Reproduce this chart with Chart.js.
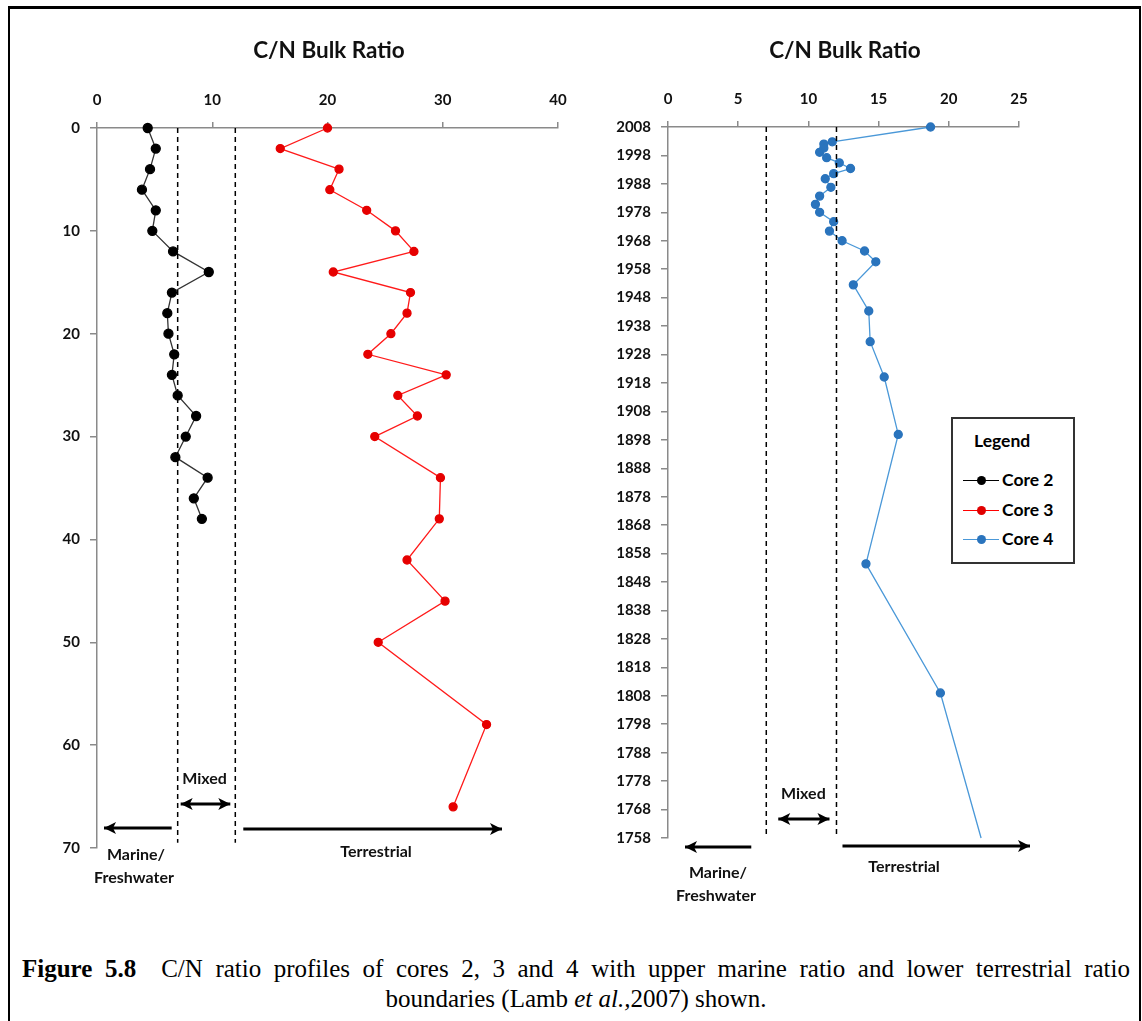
<!DOCTYPE html>
<html>
<head>
<meta charset="utf-8">
<script src="https://cdn.jsdelivr.net/npm/chart.js@4.4.0/dist/chart.umd.min.js"></script>
<style>
    body { margin: 0; background: #fff; width: 1142px; height: 1021px; overflow: hidden; position: relative; font-family: Lato, sans-serif; }
    .frame { position: absolute; left: 8px; top: 6px; width: 1129px; height: 1060px; border-left: 2px solid #000; border-top: 3px solid #000; border-right: 2px solid #000; }
    canvas { position: absolute; left: 0; top: 0; }
    .title { position: absolute; top: 36px; width: 300px; text-align: center; font-weight: bold; font-size: 22.5px; color: #111; }
    .legend { position: absolute; left: 951px; top: 417px; width: 120px; height: 143px; border: 2px solid #333; background: #fff; }
    .legend .head { position: absolute; left: 21px; top: 11px; font-weight: bold; font-size: 17.5px; }
    .legend .item { position: absolute; left: 10px; font-weight: bold; font-size: 17.5px; line-height: 20px; }
    .legend .sw { display: inline-block; position: relative; width: 36px; height: 20px; vertical-align: top; margin-right: 3px; }
    .legend .sw::before { content: ""; position: absolute; left: 0; right: 0; top: 10px; border-top: 1.5px solid var(--c); }
    .legend .sw::after { content: ""; position: absolute; left: 14px; top: 6px; width: 9px; height: 9px; border-radius: 50%; background: var(--p); }
    .caption { position: absolute; left: 22px; top: 954px; width: 1108px; font-family: "Liberation Serif", "Times New Roman", serif; font-size: 25px; line-height: 30px; color: #000; }
    .caption .l1 { text-align: justify; text-align-last: justify; }
    .caption .l2 { text-align: center; }
</style>
</head>
<body>
<div class="frame"></div>
<canvas id="coresDepth" width="1142" height="940"></canvas>
<canvas id="coresYear" width="1142" height="940"></canvas>
<div class="title" style="left:179px">C/N Bulk Ratio</div>
<div class="title" style="left:695px">C/N Bulk Ratio</div>
<div class="legend">
    <div class="head">Legend</div>
    <div class="item" style="top:51px"><span class="sw" style="--c:#000;--p:#000"></span>Core 2</div>
    <div class="item" style="top:81px"><span class="sw" style="--c:#ff0000;--p:#e00000"></span>Core 3</div>
    <div class="item" style="top:110px"><span class="sw" style="--c:#4a98d8;--p:#2a74bd"></span>Core 4</div>
</div>
<div class="caption">
    <div class="l1"><b>Figure 5.8</b>&nbsp; C/N ratio profiles of cores 2, 3 and 4 with upper marine ratio and lower terrestrial ratio</div>
    <div class="l2">boundaries (Lamb <i>et al.,</i>2007) shown.</div>
</div>

<script>
// Core 2 and 3: C/N against depth
const core2Depth = [0, 2, 4, 6, 8, 10, 12, 14, 16, 18, 20, 22, 24, 26, 28, 30, 32, 34, 36, 38];
const core2Ratio = [4.4, 5.1, 4.6, 3.9, 5.1, 4.8, 6.6, 9.7, 6.5, 6.1, 6.2, 6.7, 6.5, 7.0, 8.6, 7.7, 6.8, 9.6, 8.4, 9.1];
const core3Depth = [0, 2, 4, 6, 8, 10, 12, 14, 16, 18, 20, 22, 24, 26, 28, 30, 34, 38, 42, 46, 50, 58, 66];
const core3Ratio = [20.0, 15.9, 21.0, 20.2, 23.4, 25.9, 27.5, 20.5, 27.2, 26.9, 25.5, 23.5, 30.3, 26.1, 27.8, 24.1, 29.8, 29.7, 26.9, 30.2, 24.4, 33.8, 30.9];

// Core 4: C/N against year
const core4Year = [2008, 2002.8, 2002.0, 2000.6, 1999.1, 1997.2, 1995.4, 1993.4, 1991.6, 1989.8, 1986.8, 1983.7, 1980.8, 1978.0, 1974.7, 1971.4, 1968.0, 1964.4, 1960.6, 1952.5, 1943.3, 1932.5, 1920.1, 1899.9, 1854.4, 1809.0, 1758];
const core4Ratio = [18.7, 11.7, 11.1, 11.1, 10.8, 11.3, 12.2, 13.0, 11.8, 11.2, 11.6, 10.8, 10.5, 10.8, 11.8, 11.5, 12.4, 14.0, 14.8, 13.2, 14.3, 14.4, 15.4, 16.4, 14.1, 19.4, 22.3];

// Axis ticks
const ratioTicksDepth = [0, 10, 20, 30, 40];
const depthTicks = [0, 10, 20, 30, 40, 50, 60, 70];
const ratioTicksYear = [0, 5, 10, 15, 20, 25];
const yearTicks = [1758, 1768, 1778, 1788, 1798, 1808, 1818, 1828, 1838, 1848, 1858, 1868, 1878, 1888, 1898, 1908, 1918, 1928, 1938, 1948, 1958, 1968, 1978, 1988, 1998, 2008];

// Marine / terrestrial boundaries (Lamb et al., 2007)
const marineLimit = 7;
const terrestrialLimit = 12;

const tickFont = { family: "Lato", size: 15, weight: "bold" };
const axisGray = "#8a8a8a";

function pairs(xs, ys) {
    return xs.map((x, i) => ({ x: x, y: ys[i] }));
}

function boundaryLine(value, yFrom, yTo) {
    return {
        data: [{ x: value, y: yFrom }, { x: value, y: yTo }],
        showLine: true,
        borderColor: "#000",
        borderWidth: 1.5,
        borderDash: [5, 4],
        pointRadius: 0,
    };
}

function drawArrow(ctx, x1, y, x2, both) {
    const head = (tip, dir) => {
        ctx.beginPath();
        ctx.moveTo(tip, y);
        ctx.lineTo(tip - dir * 12, y - 6);
        ctx.lineTo(tip - dir * 9, y);
        ctx.lineTo(tip - dir * 12, y + 6);
        ctx.closePath();
        ctx.fill();
    };
    ctx.beginPath();
    ctx.moveTo(x1, y);
    ctx.lineTo(x2, y);
    ctx.stroke();
    const dir = x2 > x1 ? 1 : -1;
    head(x2, dir);
    if (both) head(x1, -dir);
}

// zone arrows + labels under each profile
const zoneLabels = {
    id: "zoneLabels",
    afterDraw(chart, args, o) {
        const ctx = chart.ctx;
        const sx = chart.scales.x;
        const b = chart.chartArea.bottom;
        const lo = sx.getPixelForValue(marineLimit);
        const hi = sx.getPixelForValue(terrestrialLimit);
        ctx.save();
        ctx.strokeStyle = "#000";
        ctx.fillStyle = "#000";
        ctx.lineWidth = 3;
        drawArrow(ctx, lo - o.marineGap, b + o.marineY, o.marineTip, false);
        drawArrow(ctx, lo + o.mixedIn[0], b + o.mixedY, hi - o.mixedIn[1], true);
        drawArrow(ctx, hi + o.terrGap, b + o.terrY, o.terrTip, false);

        ctx.font = "bold 16px Lato";
        ctx.textAlign = "center";
        ctx.textBaseline = "middle";
        ctx.fillStyle = "#111";
        ctx.fillText("Mixed", (lo + hi) / 2 + o.mixedTextDx, b + o.mixedTextY);
        ctx.fillText("Marine/", o.marineTextX, b + o.marineTextY);
        ctx.fillText("Freshwater", o.marineTextX - 2, b + o.marineTextY + 23);
        ctx.fillText("Terrestrial", o.terrTextX, b + o.terrTextY);
        ctx.restore();
    },
};

function axisX(min, max, ticks) {
    return {
        type: "linear",
        position: "top",
        min: min,
        max: max,
        afterBuildTicks: (s) => { s.ticks = ticks.map((v) => ({ value: v })); },
        afterFit: (s) => { s.height = 50; },
        grid: { drawOnChartArea: false, tickLength: 6, color: axisGray, lineWidth: 1.5 },
        border: { color: axisGray, width: 1.5 },
        ticks: { font: tickFont, color: "#111", padding: 13, maxRotation: 0 },
    };
}

function axisY(min, max, ticks, reverse, width) {
    return {
        type: "linear",
        min: min,
        max: max,
        reverse: reverse,
        afterBuildTicks: (s) => { s.ticks = ticks.map((v) => ({ value: v })); },
        afterFit: (s) => { s.width = width; },
        grid: { drawOnChartArea: false, tickLength: 7, color: axisGray, lineWidth: 1.5 },
        border: { color: axisGray, width: 1.5 },
        ticks: { font: tickFont, color: "#111", padding: 10, autoSkip: false, callback: (v) => String(v) },
    };
}

// Left: cores 2 and 3 against depth
const depthChart = new Chart(document.getElementById("coresDepth"), {
    type: "scatter",
    data: {
        datasets: [
            boundaryLine(marineLimit, 0, 69.5),
            boundaryLine(terrestrialLimit, 0, 69.5),
            {
                label: "Core 2",
                data: pairs(core2Ratio, core2Depth),
                showLine: true,
                borderColor: "#333",
                borderWidth: 1.3,
                pointBackgroundColor: "#000",
                pointBorderColor: "#000",
                pointRadius: 4.5,
                clip: false,
            },
            {
                label: "Core 3",
                data: pairs(core3Ratio, core3Depth),
                showLine: true,
                borderColor: "#ff1a1a",
                borderWidth: 1.3,
                pointBackgroundColor: "#e60000",
                pointBorderColor: "#e60000",
                pointRadius: 4,
                clip: false,
            },
        ],
    },
    options: {
        responsive: false,
        animation: false,
        events: [],
        layout: { padding: { left: 37, top: 78, right: 584, bottom: 92 } },
        plugins: {
            legend: { display: false },
            tooltip: { enabled: false },
            zoneLabels: {
                marineGap: 6, marineTip: 104, marineY: -20,
                mixedIn: [3, 5], mixedY: -44, mixedTextDx: -2, mixedTextY: -69,
                terrGap: 8, terrTip: 502, terrY: -19,
                marineTextX: 136, marineTextY: 7,
                terrTextX: 376, terrTextY: 4,
            },
        },
        scales: {
            x: axisX(0, 40, ratioTicksDepth),
            y: axisY(0, 70, depthTicks, true, 60),
        },
    },
    plugins: [zoneLabels],
});

// Right: core 4 against year
const yearChart = new Chart(document.getElementById("coresYear"), {
    type: "scatter",
    data: {
        datasets: [
            boundaryLine(marineLimit, 2008, 1759),
            boundaryLine(terrestrialLimit, 2008, 1759),
            {
                label: "Core 4",
                data: pairs(core4Ratio, core4Year),
                showLine: true,
                borderColor: "#4a98d8",
                borderWidth: 1.3,
                pointBackgroundColor: "#2a74bd",
                pointBorderColor: "#2a74bd",
                pointRadius: core4Year.map((y, i) => (i === core4Year.length - 1 ? 0 : 4)),
                clip: false,
            },
        ],
    },
    options: {
        responsive: false,
        animation: false,
        events: [],
        layout: { padding: { left: 598, top: 77, right: 123, bottom: 102 } },
        plugins: {
            legend: { display: false },
            tooltip: { enabled: false },
            zoneLabels: {
                marineGap: 15, marineTip: 685, marineY: 9,
                mixedIn: [12, 7], mixedY: -19, mixedTextDx: 2, mixedTextY: -44,
                terrGap: 6, terrTip: 1030, terrY: 8,
                marineTextX: 718, marineTextY: 35,
                terrTextX: 904, terrTextY: 29,
            },
        },
        scales: {
            x: axisX(0, 25, ratioTicksYear),
            y: axisY(1758, 2008, yearTicks, false, 70),
        },
    },
    plugins: [zoneLabels],
});
</script>
</body>
</html>
